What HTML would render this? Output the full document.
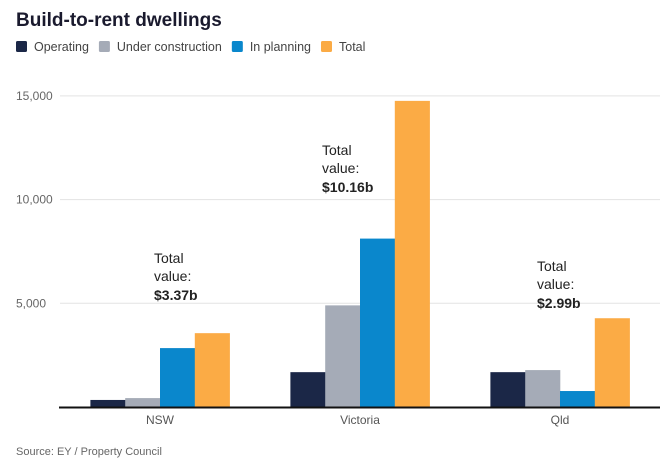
<!DOCTYPE html>
<html><head><meta charset="utf-8"><style>
body{margin:0;background:#fff;font-family:"Liberation Sans",sans-serif;}
#wrap{position:relative;width:663px;height:468px;overflow:hidden;}
</style></head><body>
<div id="wrap">
<svg id="chart" width="663" height="468" xmlns="http://www.w3.org/2000/svg">
<text x="16" y="26" font-size="19" font-weight="bold" fill="#1a1a2e">Build-to-rent dwellings</text>
<g id="legend"></g>
<g id="grid"></g>
<g id="bars"></g>
<g id="notes"></g>
<text x="16" y="455" font-size="11" fill="#666">Source: EY / Property Council</text>
</svg>
</div>
<script>
const categories = ["NSW","Victoria","Qld"];
const seriesNames = ["Operating","Under construction","In planning","Total"];
const operating = [340,1680,1680];
const underConstruction = [430,4900,1780];
const inPlanning = [2840,8120,770];
const total = [3560,14760,4280];
const yTicks = [5000,10000,15000];
const yTickLabels = ["5,000","10,000","15,000"];
const totalValues = ["$3.37b","$10.16b","$2.99b"];

const colors = ["#1b2747","#a5abb7","#0a87cc","#fbab45"];
const NS="http://www.w3.org/2000/svg";
const y0=407, pxPer=103.7/5000;
const yScale=v=>y0-v*pxPer;
const xCenter=i=>160+i*200;
const bw=34.8;
function mk(tag,attrs,parent){const e=document.createElementNS(NS,tag);for(const k in attrs)e.setAttribute(k,attrs[k]);parent.appendChild(e);return e;}
const legend=document.getElementById('legend');
let lx=16;
seriesNames.forEach((n,i)=>{
  const r=mk('rect',{x:lx,y:41,width:11,height:11,rx:1.5,fill:colors[i]},legend);
  
  
  const t=mk('text',{x:lx+18,y:51,'font-size':12.5,fill:'#444'},legend);t.textContent=n;
  
  
  lx+=18+t.getComputedTextLength()+10;
});
const grid=document.getElementById('grid');
yTicks.forEach((v,i)=>{
  const l=mk('line',{x1:60,x2:660,y1:yScale(v),y2:yScale(v),stroke:'#e3e3e3','stroke-width':1},grid);
  
  
  const t=mk('text',{x:16,y:yScale(v)+4,'font-size':12,fill:'#666'},grid);t.textContent=yTickLabels[i];
  
  
});
const bars=document.getElementById('bars');
const series=[operating,underConstruction,inPlanning,total];
categories.forEach((c,ci)=>{
  series.forEach((s,si)=>{
    const x=xCenter(ci)-2*bw+si*bw;
    const r=mk('rect',{x:x,y:yScale(s[ci]),width:bw+0.3,height:y0-yScale(s[ci]),fill:colors[si]},bars);
    
    
  });
  const t=mk('text',{x:xCenter(ci),y:424,'font-size':12,fill:'#555','text-anchor':'middle'},bars);t.textContent=c;
  
  
});
const ax=mk('line',{x1:59,x2:660,y1:y0+0.5,y2:y0+0.5,stroke:'#111','stroke-width':2},bars);


const notes=document.getElementById('notes');
const noteX=[154,322,537];
const noteY=[263,155,271];
totalValues.forEach((v,i)=>{
  const baseY=noteY[i];
  const ty=[baseY,baseY+18,baseY+37];
  const lines=["Total","value:",v];
  lines.forEach((s,j)=>{
    const t=mk('text',{x:noteX[i],y:ty[j],'font-size':14,fill:'#222','font-weight':j===2?'bold':'normal'},notes);t.textContent=s;
    
    
  });
});
</script>
</body></html>
